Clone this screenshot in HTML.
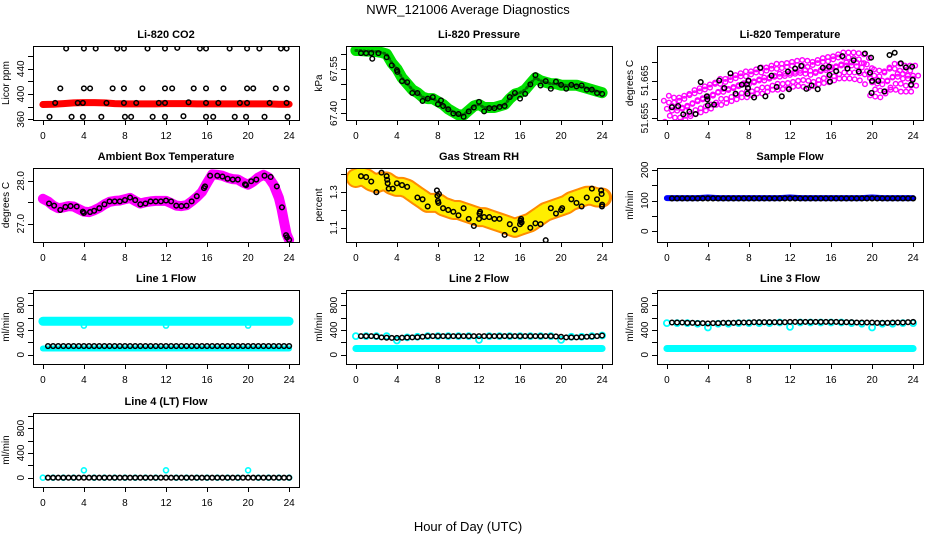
<!DOCTYPE html>
<html><head><meta charset="utf-8"><style>
html,body{margin:0;padding:0;background:#fff;}
svg{display:block;font-family:"Liberation Sans",Arial,sans-serif;}
</style></head><body>
<svg id="chart" width="936" height="540" viewBox="0 0 936 540" xmlns="http://www.w3.org/2000/svg">
<text x="468" y="14" font-size="13" text-anchor="middle">NWR_121006  Average Diagnostics</text>
<text x="468" y="531" font-size="13" text-anchor="middle">Hour of Day (UTC)</text>
</svg>
<script>
const xTicks = [0,4,8,12,16,20,24];
// CO2
const co2BlackH = [2.27,4.0,5.15,7.25,7.9,10.2,11.9,13.1,15.3,15.9,18.2,19.9,21.1,23.2,23.75, 1.7,4.0,4.6,6.8,7.9,9.7,11.9,12.6,14.7,15.9,17.6,19.9,20.5,22.7,23.75, 1.2,3.4,3.9,6.2,7.9,9.1,11.3,11.9,14.2,15.9,17.1,19.2,19.9,22.1,23.75, 0.65,2.8,3.9,5.7,8.0,8.6,10.7,11.9,13.7,15.9,16.6,18.7,19.8,21.6,23.85];
const co2BlackV = [472,472,472,472,472,472,472,473,472,472,472,472,472,472,472, 409,409,409,409,409,409,409,409,409,409,409,409,409,409,409, 386,386,386,386,386,386,386,386,387,386,386,386,386,386,386, 364,364,364,364,364,364,364,364,365,364,364,364,364,364,364];
const co2RedH = [0,1,2,3,4,5,6,7,8,9,10,11,12,13,14,15,16,17,18,19,20,21,22,23,24];
const co2RedV = [383.5,384,385,386,386.5,386.5,386,385,384.5,384.5,384.5,384.5,385,385,385,384.5,384.5,384.5,384.5,384.5,384.5,384.5,384.5,384,384];
// Pressure
const presH = [0.5,1,1.5,1.6,2.2,3,3.5,4,4.05,4.5,5,5.5,6,6.5,7,7.5,8,8.3,8.5,9,9.5,10,10.5,11,11.5,12,12.5,13,13.5,14,14.5,15,15.5,16,16.5,17,17.5,18,18.5,19,19.5,20,20.5,21,21.5,22,22.5,23,23.5,24];
const presV = [67.603,67.603,67.603,67.584,67.603,67.589,67.562,67.546,67.54,67.509,67.505,67.469,67.469,67.442,67.45,67.455,67.431,67.444,67.425,67.414,67.40,67.398,67.389,67.407,67.42,67.439,67.407,67.418,67.418,67.422,67.425,67.455,67.469,67.45,67.466,67.498,67.529,67.494,67.509,67.483,67.507,67.496,67.483,67.496,67.491,67.494,67.48,67.48,67.469,67.466];
const presGreenH = [0,0.5,1,1.5,2,2.5,3,3.5,4,4.5,5,5.5,6,6.5,7,7.5,8,8.5,9,9.5,10,10.5,11,11.5,12,12.5,13,13.5,14,14.5,15,15.5,16,16.5,17,17.5,18,18.5,19,19.5,20,20.5,21,21.5,22,22.5,23,23.5,24];
const presGreenV = [67.612,67.612,67.61,67.61,67.608,67.605,67.6,67.57,67.55,67.52,67.5,67.48,67.47,67.455,67.45,67.45,67.44,67.43,67.415,67.405,67.395,67.395,67.41,67.425,67.43,67.42,67.42,67.42,67.425,67.43,67.45,67.465,67.47,67.48,67.5,67.52,67.51,67.505,67.5,67.5,67.495,67.495,67.495,67.495,67.49,67.485,67.48,67.475,67.47];
// Li-820 temperature
const tempH = [0.5,1.1,1.6,2.2,2.8,3.3,3.9,3.95,4.0,4.6,5.1,5.6,6.2,6.7,7.3,7.8,7.9,7.95,7.85,8.5,9.1,9.6,10.2,10.7,11.2,11.8,11.9,12.5,13.1,13.6,14.1,14.7,15.2,15.8,15.85,15.9,16.5,17.1,17.6,18.2,18.7,19.3,19.8,19.9,20.0,19.95,20.6,21.2,21.7,22.2,22.8,23.3,23.9,23.95,23.8];
const tempV = [51.6579,51.6582,51.656,51.6567,51.6561,51.6646,51.6608,51.660,51.6584,51.6586,51.665,51.663,51.6669,51.6615,51.6639,51.664,51.663,51.665,51.6615,51.6605,51.6684,51.6608,51.6663,51.6633,51.6608,51.6674,51.6627,51.6682,51.6689,51.6628,51.6637,51.6627,51.6684,51.6687,51.6665,51.6647,51.6675,51.6715,51.6682,51.6704,51.6674,51.6722,51.6671,51.6711,51.6649,51.6617,51.6649,51.6621,51.6718,51.6724,51.6696,51.6685,51.6687,51.6652,51.6639];
const tempMagH = [0,0.5,1,1.5,2,2.5,3,3.5,4,4.5,5,5.5,6,6.5,7,7.5,8,8.5,9,9.5,10,10.5,11,11.5,12,12.5,13,13.5,14,14.5,15,15.5,16,16.5,17,17.5,18,18.5,19,19.5,20,20.5,21,21.5,22,22.5,23,23.5,24];
const tempMagV = [51.6575,51.657,51.657,51.6575,51.658,51.659,51.6595,51.660,51.6605,51.661,51.662,51.662,51.6625,51.663,51.6635,51.664,51.664,51.6645,51.665,51.665,51.6655,51.666,51.666,51.6662,51.6665,51.6668,51.667,51.6668,51.6665,51.667,51.6675,51.6678,51.668,51.6685,51.669,51.669,51.669,51.6688,51.6685,51.6675,51.6645,51.6642,51.664,51.665,51.666,51.666,51.6655,51.6655,51.6655];
// Ambient
const ambH = [0.6,1.1,1.7,2.2,2.7,3.3,3.9,4.0,4.6,5.0,5.5,6.0,6.5,7.0,7.5,8.0,8.5,9.0,9.5,10.0,10.5,11.0,11.5,12.0,12.5,13.0,13.5,14.0,14.5,15.0,15.7,15.8,16.3,17.0,17.5,18.0,18.5,19.0,19.7,19.8,20.3,20.8,21.6,22.2,22.8,23.3,23.7,23.8,24.0];
const ambV = [27.47,27.42,27.32,27.39,27.41,27.40,27.28,27.25,27.27,27.30,27.36,27.45,27.52,27.52,27.52,27.55,27.61,27.55,27.45,27.47,27.52,27.52,27.52,27.54,27.52,27.42,27.41,27.42,27.52,27.64,27.83,27.87,28.12,28.12,28.10,28.05,28.03,28.03,27.92,27.90,27.99,28.03,28.12,28.09,27.87,27.38,26.73,26.68,26.62];
const ambMagH = [0,0.5,1,1.5,2,2.5,3,3.5,4,4.5,5,5.5,6,6.5,7,7.5,8,8.5,9,9.5,10,10.5,11,11.5,12,12.5,13,13.5,14,14.5,15,15.5,16,16.5,17,17.5,18,18.5,19,19.5,20,20.5,21,21.5,22,22.5,23,23.25,23.5,23.75,24];
const ambMagV = [27.58,27.52,27.42,27.36,27.38,27.41,27.40,27.34,27.28,27.27,27.31,27.37,27.45,27.51,27.53,27.54,27.57,27.60,27.53,27.47,27.50,27.52,27.53,27.53,27.53,27.48,27.42,27.41,27.43,27.52,27.62,27.74,27.95,28.15,28.14,28.12,28.07,28.04,28.03,27.96,27.91,27.98,28.08,28.14,28.08,27.90,27.60,27.35,27.05,26.75,26.62];
// RH
const rhH = [0.5,1,1.5,2,2.5,3,3.05,3.1,3.2,3.6,4,4.5,5,6,6.5,7,7.9,7.95,8,8.05,8.1,8.5,9,9.5,10,10.5,11,11.5,12,12.05,12.1,12.5,13,13.5,14,14.5,15,15.5,16,16.05,16.1,16.15,17,17.5,18,18.5,19,19.5,20,20.1,21,21.5,22,22.5,23,23.5,23.9,23.95,24,23.98];
const rhV = [1.39,1.385,1.36,1.30,1.41,1.39,1.37,1.35,1.32,1.32,1.35,1.34,1.33,1.27,1.26,1.22,1.31,1.28,1.25,1.24,1.29,1.21,1.20,1.19,1.17,1.21,1.15,1.11,1.15,1.18,1.19,1.16,1.16,1.15,1.15,1.06,1.12,1.09,1.12,1.14,1.15,1.13,1.10,1.125,1.12,1.03,1.21,1.18,1.20,1.21,1.26,1.24,1.22,1.27,1.32,1.26,1.31,1.29,1.23,1.22];
const rhCloudH = [0,0.5,1,1.5,2,2.5,3,3.5,4,4.5,5,5.5,6,6.5,7,7.5,8,8.5,9,9.5,10,10.5,11,11.5,12,12.5,13,13.5,14,14.5,15,15.5,16,16.5,17,17.5,18,18.5,19,19.5,20,20.5,21,21.5,22,22.5,23,23.5,24];
const rhCloudV = [1.38,1.39,1.38,1.36,1.35,1.36,1.36,1.34,1.33,1.33,1.32,1.30,1.28,1.26,1.24,1.24,1.24,1.22,1.21,1.20,1.20,1.19,1.18,1.17,1.16,1.16,1.15,1.14,1.13,1.12,1.11,1.10,1.11,1.12,1.13,1.15,1.17,1.19,1.20,1.21,1.22,1.23,1.25,1.26,1.27,1.28,1.28,1.27,1.27];
// Sample flow
const sfBlueH = [0,1,2,3,4,5,6,7,8,9,10,11,12,13,14,15,16,17,18,19,20,21,22,23,24];
const sfBlueV = [108,108,108,108,110,108,108,108,108,108,108,108,110,108,108,108,108,108,108,108,110,108,108,108,108];
const sfBlackH = [0.5,1,1.5,2,2.5,3,3.5,4,4.5,5,5.5,6,6.5,7,7.5,8,8.5,9,9.5,10,10.5,11,11.5,12,12.5,13,13.5,14,14.5,15,15.5,16,16.5,17,17.5,18,18.5,19,19.5,20,20.5,21,21.5,22,22.5,23,23.5,24];
const sfBlackV = [107,107,107,107,107,107,107,107,107,107,107,107,107,107,107,107,107,107,107,107,107,107,107,107,107,107,107,107,107,107,107,107,107,107,107,107,107,107,107,107,107,107,107,107,107,107,107,107];
// Line flows
const flowH = [0,1,2,3,4,5,6,7,8,9,10,11,12,13,14,15,16,17,18,19,20,21,22,23,24];
const flowBlackH = [0.5,1,1.5,2,2.5,3,3.5,4,4.5,5,5.5,6,6.5,7,7.5,8,8.5,9,9.5,10,10.5,11,11.5,12,12.5,13,13.5,14,14.5,15,15.5,16,16.5,17,17.5,18,18.5,19,19.5,20,20.5,21,21.5,22,22.5,23,23.5,24];
const l1CyanHi = [540,540,540,540,470,540,540,540,540,540,540,540,470,540,540,540,550,540,540,540,470,540,540,540,540];
const l1CyanLo = [100,100,100,100,100,100,100,100,100,100,100,100,100,100,100,100,100,100,100,100,100,100,100,100,100];
const l1Black = [140,140,140,140,140,140,140,140,140,140,140,140,140,140,140,140,140,140,140,140,140,140,140,140,140,140,140,140,140,140,140,140,140,140,140,140,140,140,140,140,140,140,140,140,140,140,140,140];
const l2CyanHi = [300,300,300,300,230,280,290,300,300,300,300,300,240,300,300,300,300,300,300,300,240,290,290,300,310];
const l2CyanLo = [100,100,100,100,100,100,100,100,100,100,100,100,100,100,100,100,100,100,100,100,100,100,100,100,100];
const l2Black = [300,300,300,295,280,275,272,272,275,278,280,282,290,300,300,300,300,300,300,300,300,300,300,300,300,300,300,300,300,300,300,300,300,300,300,300,300,300,295,290,280,280,280,285,290,295,300,310];
const l3CyanHi = [510,510,510,500,440,500,500,510,510,510,510,520,450,520,520,520,520,520,510,500,440,500,500,510,510];
const l3CyanLo = [100,100,100,100,100,100,100,100,100,100,100,100,100,100,100,100,100,100,100,100,100,100,100,100,100];
const l3Black = [520,520,520,515,515,510,510,505,510,510,515,515,515,520,520,520,525,525,525,525,525,525,525,530,530,530,530,530,530,530,530,530,530,525,525,525,520,520,520,520,515,515,515,520,520,520,525,530];
const l4CyanHi = [0,0,0,0,120,0,0,0,0,0,0,0,120,0,0,0,0,0,0,0,120,0,0,0,0];
const l4Black = [0,0,0,0,0,0,0,0,0,0,0,0,0,0,0,0,0,0,0,0,0,0,0,0,0,0,0,0,0,0,0,0,0,0,0,0,0,0,0,0,0,0,0,0,0,0,0,0];

const NS = 'http://www.w3.org/2000/svg';
const svg = document.getElementById('chart');
const colLeft = [33,346,657], rowTop = [46,168,290,413], PW = 266, PH = 74;
function mk(tag, attrs, parent){ const e = document.createElementNS(NS, tag); for (const k in attrs) e.setAttribute(k, attrs[k]); (parent||svg).appendChild(e); return e; }
function panel(col,row,title,ylab,ymin,ymax,yt,ytl,name){
  const L=colLeft[col], T=rowTop[row];
  const g = mk('g',{});
  
  
  const xs = h => L + (h + 0.96) / 25.92 * PW;
  const ys = v => T + PH - (v - ymin) / (ymax - ymin) * PH;
  const t = mk('text',{x:L+PW/2,y:T-8,'font-size':11,'font-weight':'bold','text-anchor':'middle'},g);
  t.textContent = title;
  
  
  const yl = mk('text',{x:0,y:0,'font-size':10,'text-anchor':'middle',transform:`translate(${L-24},${T+PH/2}) rotate(-90)`},g);
  yl.textContent = ylab;
  
  
  const ax = mk('g',{stroke:'#000','stroke-width':1},g);
  
  
  mk('line',{x1:xs(0),x2:xs(24),y1:T+PH+0.5,y2:T+PH+0.5},ax);
  xTicks.forEach(h=>{
    mk('line',{x1:Math.round(xs(h))+0.5,x2:Math.round(xs(h))+0.5,y1:T+PH,y2:T+PH+5},ax);
    const tx = mk('text',{x:xs(h),y:T+PH+19,'font-size':10,'text-anchor':'middle',stroke:'none'},g);
    tx.textContent = h;
    
    
  });
  const ay = mk('g',{stroke:'#000','stroke-width':1},g);
  
  
  yt.forEach((v,i)=>{
    const y = Math.round(ys(v))+0.5;
    mk('line',{x1:L-5,x2:L,y1:y,y2:y},ay);
    if (ytl[i] !== '') {
      const tl = mk('text',{x:0,y:0,'font-size':10,'text-anchor':'middle',transform:`translate(${L-9},${ys(v)}) rotate(-90)`},g);
      tl.textContent = ytl[i];
      
      
    }
  });
  const plot = mk('g',{},g);
  
  
  const clip = 'clip'+name;
  const cp = mk('clipPath',{id:clip},g);
  mk('rect',{x:L,y:T,width:PW,height:PH},cp);
  plot.setAttribute('clip-path','url(#'+clip+')');
  mk('rect',{x:L+0.5,y:T+0.5,width:PW,height:PH,fill:'none',stroke:'#000','stroke-width':1},g);
  return {xs,ys,plot};
}
function pts(p,H,V,color,r,sw,name,offs){
  const g = mk('g',{fill:'none',stroke:color,'stroke-width':sw},p.plot);
  
  
  (offs||[[0,0]]).forEach(o=>{
    H.forEach((h,i)=>{ mk('circle',{cx:p.xs(h)+o[0],cy:p.ys(V[i])+o[1],r:r},g); });
  });
}
function band(p,H,V,color,w,name,dash){
  const d = H.map((h,i)=>(i?'L':'M')+p.xs(h).toFixed(1)+','+p.ys(V[i]).toFixed(1)).join('');
  const e = mk('path',{d:d,fill:'none',stroke:color,'stroke-width':w,'stroke-linejoin':'round','stroke-linecap':'round'},p.plot);
  if (dash) e.setAttribute('stroke-dasharray', dash);
  
  
}
const flowT=[0,200,400,600,800,1000], flowL=['0','','400','','800',''];
// Panel 1 CO2
let p = panel(0,0,'Li-820 CO2','Licor ppm',359,476,[360,380,400,420,440,460],['360','','400','','440',''],'co2');
band(p,co2RedH,co2RedV,'#ff0000',7,'co2-red-series');
pts(p,co2BlackH,co2BlackV,'#000',2.3,1.5,'co2-black-points');
// Panel 2 Pressure
p = panel(1,0,'Li-820 Pressure','kPa',67.378,67.627,[67.40,67.45,67.50,67.55,67.60],['67.40','','','67.55',''],'pressure');
band(p,presGreenH,presGreenV,'#00e000',11,'pressure-green-series');
band(p,presGreenH,presGreenV,'#007000',3,'pressure-green-dots','1 3');
pts(p,presH,presV,'#000',2.3,1.4,'pressure-black-points');
// Panel 3 Temperature
p = panel(2,0,'Li-820 Temperature','degrees C',51.6545,51.6742,[51.655,51.660,51.665,51.670],['51.655','','51.665',''],'li820-temp');
pts(p,tempMagH,tempMagV,'#ff00ff',2.3,1.4,'temp-magenta-points',[[0,0],[-3,-8],[3,7],[2,-13],[-2,13],[5,-3]]);
pts(p,tempH,tempV,'#000',2.3,1.5,'temp-black-points');
// Panel 4 Ambient
p = panel(0,1,'Ambient Box Temperature','degrees C',26.57,28.30,[27.0,27.5,28.0],['27.0','','28.0'],'ambient');
band(p,ambMagH,ambMagV,'#ff00ff',10,'ambient-magenta-series');
pts(p,ambH,ambV,'#000',2.3,1.5,'ambient-black-points');
// Panel 5 RH
p = panel(1,1,'Gas Stream RH','percent',1.02,1.436,[1.1,1.2,1.3,1.4],['1.1','','1.3',''],'rh');
band(p,rhCloudH,rhCloudV,'#ff8c00',20,'rh-orange-series');
band(p,rhCloudH,rhCloudV,'#ffee00',16,'rh-yellow-series','2 2');
pts(p,rhH,rhV,'#000',2.3,1.5,'rh-black-points');
// Panel 6 Sample flow
p = panel(2,1,'Sample Flow','ml/min',-35,206,[0,50,100,150,200],['0','','100','','200'],'sample-flow');
band(p,sfBlueH,sfBlueV,'#0000ff',6,'sample-flow-blue-series');
pts(p,sfBlackH,sfBlackV,'#000',2.3,1.6,'sample-flow-black-points');
// Line 1
p = panel(0,2,'Line 1 Flow','ml/min',-150,1045,flowT,flowL,'line1');
band(p,flowH,l1CyanHi.map(()=>540),'#00ffff',9,'line1-cyan-high-band');
pts(p,flowH,l1CyanHi,'#00ffff',2.5,1.6,'line1-cyan-high-points');
band(p,flowH,l1CyanLo,'#00ffff',6,'line1-cyan-low-series');
pts(p,flowBlackH,l1Black,'#000',2.3,1.5,'line1-black-points');
// Line 2
p = panel(1,2,'Line 2 Flow','ml/min',-150,1045,flowT,flowL,'line2');
pts(p,flowH,l2CyanHi,'#00ffff',3,1.8,'line2-cyan-high-points');
band(p,flowH,l2CyanLo,'#00ffff',7,'line2-cyan-low-series');
pts(p,flowBlackH,l2Black,'#000',2.3,1.5,'line2-black-points');
// Line 3
p = panel(2,2,'Line 3 Flow','ml/min',-150,1045,flowT,flowL,'line3');
pts(p,flowH,l3CyanHi,'#00ffff',3,1.8,'line3-cyan-high-points');
band(p,flowH,l3CyanLo,'#00ffff',7,'line3-cyan-low-series');
pts(p,flowBlackH,l3Black,'#000',2.3,1.5,'line3-black-points');
// Line 4
p = panel(0,3,'Line 4 (LT) Flow','ml/min',-150,1045,flowT,flowL,'line4');
pts(p,flowH,l4CyanHi,'#00ffff',2.5,1.6,'line4-cyan-points');
pts(p,flowBlackH,l4Black,'#000',2.3,1.6,'line4-black-points');
</script>
</body></html>
